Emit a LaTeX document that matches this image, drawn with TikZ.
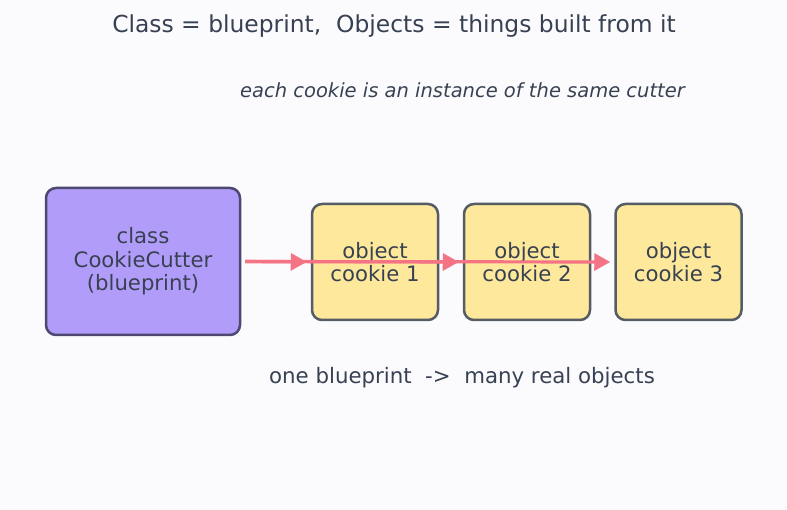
\documentclass[tikz,border=0pt]{standalone}
\usepackage{fontspec}
\setmainfont{DejaVu Sans}
\usetikzlibrary{arrows.meta}
\definecolor{bgc}{HTML}{FBFBFE}
\definecolor{txt}{HTML}{374151}
\definecolor{clsfill}{HTML}{B19DF9}
\definecolor{clsdraw}{HTML}{4C4870}
\definecolor{objfill}{HTML}{FDE89B}
\definecolor{objdraw}{HTML}{555C63}
\definecolor{arr}{HTML}{F47384}
\tikzset{
  clsbox/.style={draw=clsdraw, fill=clsfill, line width=2.5pt, rounded corners=10pt,
    minimum width=194pt, minimum height=147pt, align=center, text=txt,
    font=\fontsize{21.2pt}{23.5pt}\selectfont, inner sep=0pt},
  objbox/.style={draw=objdraw, fill=objfill, line width=2.5pt, rounded corners=10pt,
    minimum width=126pt, minimum height=116pt, align=center, text=txt,
    font=\fontsize{21.2pt}{23.5pt}\selectfont, inner sep=0pt},
  link/.style={draw=arr, line width=3.2pt, -{Triangle[length=16pt,width=17pt]},
    shorten <=4pt, shorten >=4pt},
  lbl/.style={text=txt, inner sep=0pt}
}
\begin{document}
\begin{tikzpicture}[x=1pt,y=-1pt]
\fill[bgc] (0,0) rectangle (787,510);
\useasboundingbox (0,0) rectangle (787,510);
\node[lbl, font=\fontsize{23.4pt}{27pt}\selectfont] (title) at (394,26) {Class = blueprint,\ \ Objects = things built from it};
\node[lbl, font=\fontsize{19.5pt}{23pt}\selectfont\itshape] (sub) at (462.5,90) {each cookie is an instance of the same cutter};
\node[clsbox] (cls) at (143,261.5) {class\\CookieCutter\\(blueprint)};
\node[objbox] (o1) at (375,262) {object\\cookie 1};
\node[objbox] (o2) at (527,262) {object\\cookie 2};
\node[objbox] (o3) at (678.5,262) {object\\cookie 3};
\draw[link] (cls.east) -- (o1.west);
\draw[link] (cls.east) -- (o2.west);
\draw[link] (cls.east) -- (o3.west);
\node[lbl, font=\fontsize{21.3pt}{25pt}\selectfont] (foot) at (462,378) {one blueprint\ \ ->\ \ many real objects};
\end{tikzpicture}
\end{document}
